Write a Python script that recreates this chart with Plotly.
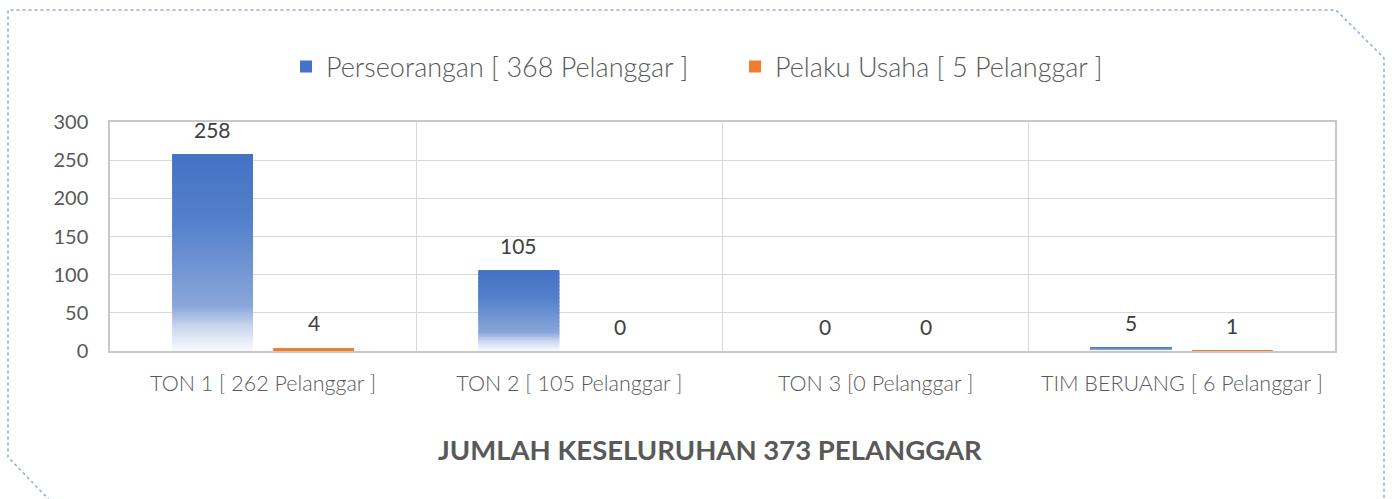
import plotly.graph_objects as go

categories = ["TON 1 [ 262 Pelanggar ]", "TON 2 [ 105 Pelanggar ]",
              "TON 3 [0 Pelanggar ]", "TIM BERUANG [ 6 Pelanggar ]"]
perseorangan = [258, 105, 0, 5]
pelaku_usaha = [4, 0, 0, 1]
name_perseorangan = "Perseorangan [ 368 Pelanggar ]"
name_pelaku = "Pelaku Usaha [ 5 Pelanggar ]"
chart_title = "JUMLAH KESELURUHAN 373 PELANGGAR"

W, H = 1394, 499
L, R, T, B = 110, 59, 122, 148
PW, PH = W - L - R, H - T - B
BARGAP, GROUPGAP = 0.34, 0.20

# gradient stops (fraction from top of bar, rgb)
STOPS = [(0.0, (68, 114, 196)), (0.35, (84, 128, 203)), (0.78, (138, 166, 218)),
         (0.88, (200, 213, 238)), (1.0, (246, 248, 252))]
NSEG = 100


def grad_color(f):
    for (f0, c0), (f1, c1) in zip(STOPS, STOPS[1:]):
        if f <= f1:
            t = (f - f0) / (f1 - f0) if f1 > f0 else 0
            c = [round(a + (b - a) * t) for a, b in zip(c0, c1)]
            return "rgb(%d,%d,%d)" % tuple(c)
    return "rgb(%d,%d,%d)" % STOPS[-1][1]


# blue bars split into gradient segments (top segment first, so legend shows top colour)
xs, bases, ys, cols = [], [], [], []
for cat, v in zip(categories, perseorangan):
    seg = v / NSEG
    for i in range(NSEG):
        f = (i + 0.5) / NSEG
        base = v - seg * (i + 1)
        h = seg if i == 0 else seg * 1.8  # slight overlap hides seams
        xs.append(cat)
        bases.append(base)
        ys.append(h)
        cols.append(grad_color(f))

FONT = "Lato"
fig = go.Figure()
fig.add_trace(go.Bar(
    x=xs, y=ys, base=bases, name=name_perseorangan,
    marker=dict(color=cols, line=dict(width=0)),
    hoverinfo="skip",
))
fig.add_trace(go.Bar(
    x=categories, y=pelaku_usaha, name=name_pelaku,
    marker=dict(color="#ED7D31", line=dict(width=0)),
    hoverinfo="skip",
))

# data labels placed over each bar of the group
slot = (PW / len(categories)) * (1 - BARGAP) / 2
annotations = []
for series, sign in ((perseorangan, -1), (pelaku_usaha, 1)):
    for cat, v in zip(categories, series):
        annotations.append(dict(
            x=cat, y=v, xref="x", yref="y", text=str(v), showarrow=False,
            xanchor="center", yanchor="middle", xshift=sign * slot / 2, yshift=25,
            font=dict(family=FONT, size=21, color="#404040", weight=400)))


def px(x):
    return (x - L) / PW


def py(y):
    return (H - B - y) / PH


annotations.append(dict(text="<b>" + chart_title + "</b>", xref="paper", yref="paper",
                        x=px(710), y=py(449), xanchor="center", yanchor="middle",
                        showarrow=False,
                        font=dict(family=FONT, size=27.5, color="#595959")))

pts = [(54, 505), (8, 457), (8, 10), (1336, 10), (1384, 58), (1384, 505)]
path = "M " + " L ".join("%f,%f" % (px(a), py(b)) for a, b in pts)

fig.update_layout(
    width=W, height=H,
    margin=dict(l=L, r=R, t=T, b=B, autoexpand=False),
    paper_bgcolor="white", plot_bgcolor="white",
    barmode="group", bargap=BARGAP, bargroupgap=GROUPGAP,
    font=dict(family=FONT, color="#595959", size=20, weight=300),
    showlegend=True,
    legend=dict(orientation="h", xref="container", x=(300 - 14) / W, xanchor="left",
                yref="container", y=1 - 67 / H, yanchor="middle",
                font=dict(family=FONT, size=27, color="#595959", weight=300),
                entrywidth=404, itemwidth=30, traceorder="normal"),
    xaxis=dict(type="category", tickson="boundaries", showgrid=True,
               gridcolor="#d9d9d9", gridwidth=1, ticks="", ticklen=0,
               showline=True, linecolor="#c8c8c8", linewidth=1.5, mirror=True,
               tickfont=dict(family=FONT, size=21.5, color="#595959", weight=300),
               ticklabelstandoff=12, automargin=False),
    yaxis=dict(range=[0, 300], dtick=50, showgrid=True, gridcolor="#d9d9d9",
               gridwidth=1, zeroline=False, ticks="",
               showline=True, linecolor="#c8c8c8", linewidth=1.5, mirror=True,
               tickfont=dict(family=FONT, size=20, color="#595959", weight=400),
               ticklabelstandoff=16, automargin=False),
    shapes=[dict(type="path", xref="paper", yref="paper", path=path,
                 line=dict(color="#8FAADC", width=1.5, dash="dot"), layer="above")],
    annotations=annotations,
)

fig.write_html("out.html", config={"displayModeBar": False},
               post_script="document.body.style.margin='0';")
